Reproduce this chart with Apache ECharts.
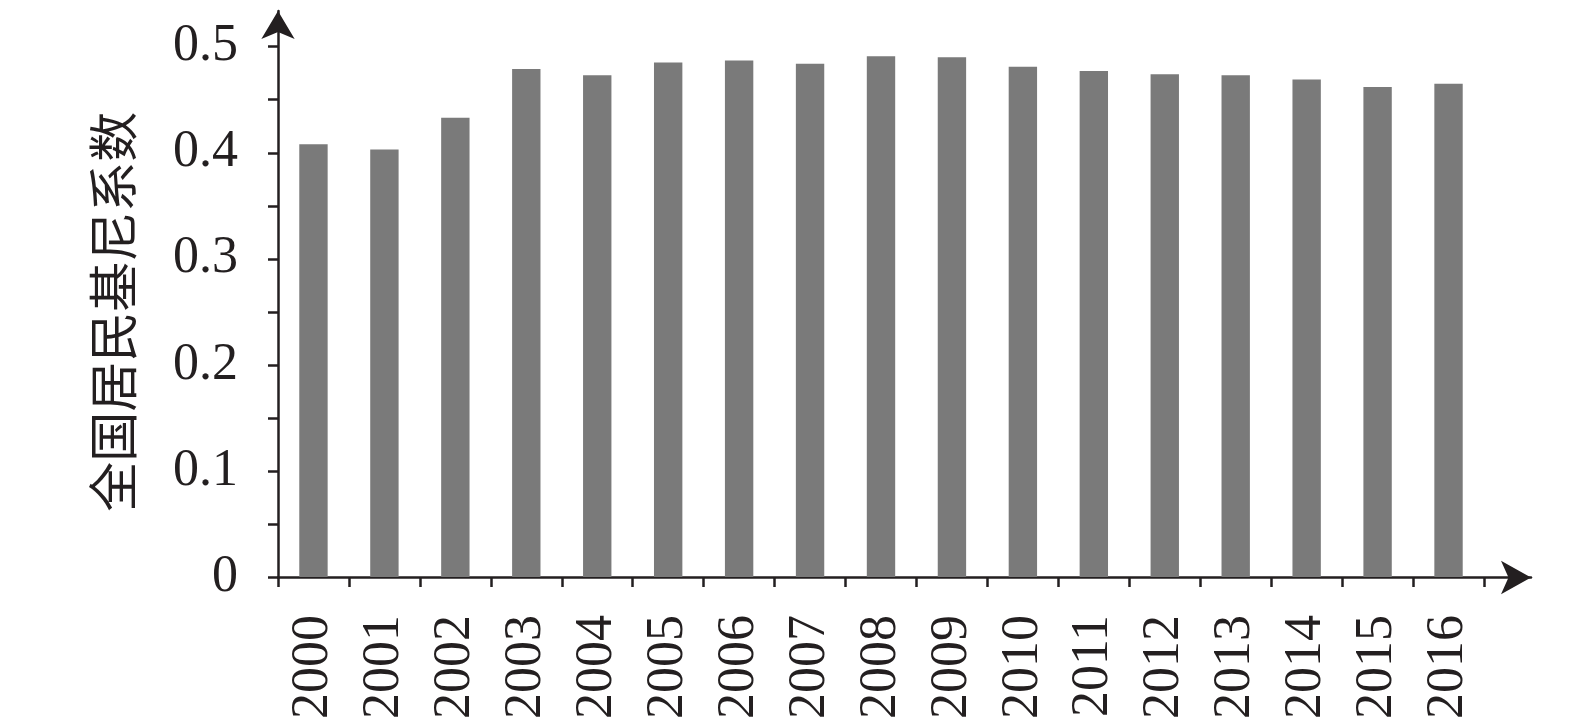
<!DOCTYPE html>
<html>
<head>
<meta charset="utf-8">
<script src="https://cdn.jsdelivr.net/npm/echarts@6/dist/echarts.min.js"></script>
<style>
html,body{margin:0;padding:0;background:#fff;}
#chart{width:1575px;height:722px;}
</style>
</head>
<body>
<div id="chart"></div>
<script>
const years = ['2000','2001','2002','2003','2004','2005','2006','2007','2008','2009','2010','2011','2012','2013','2014','2015','2016'];
const gini = [0.408,0.403,0.433,0.479,0.473,0.485,0.487,0.484,0.491,0.490,0.481,0.477,0.474,0.473,0.469,0.462,0.465];
const yAxisName = '全国居民基尼系数';

const ink = '#231f20';
const chart = echarts.init(document.getElementById('chart'));
chart.setOption({
  animation: false,
  backgroundColor: '#ffffff',
  grid: [
    {left: 278, right: 91, top: 46.7, bottom: 144.5},
    {left: 278, right: 44, top: 11, bottom: 144.5}
  ],
  xAxis: [
    {
      type: 'category', gridIndex: 0, data: years,
      axisLine: {show: false},
      axisTick: {show: true, length: 10, lineStyle: {color: ink, width: 2.5}},
      axisLabel: {rotate: 90, margin: 38, color: ink, fontFamily: 'Liberation Serif', fontSize: 52}
    },
    {
      type: 'value', gridIndex: 1, min: 0, max: 1,
      axisLine: {show: true, symbol: ['none','arrow'], symbolSize: [25, 30], lineStyle: {color: ink, width: 2.5}},
      axisTick: {show: false}, axisLabel: {show: false}, splitLine: {show: false}
    }
  ],
  yAxis: [
    {
      type: 'value', gridIndex: 0, min: 0, max: 0.5, interval: 0.05,
      name: yAxisName, nameLocation: 'middle', nameRotate: 90, nameGap: 140,
      nameTextStyle: {color: ink, fontFamily: 'Noto Sans CJK SC', fontSize: 50},
      axisLine: {show: false},
      axisTick: {show: true, length: 10, lineStyle: {color: ink, width: 2.5}},
      splitLine: {show: false},
      axisLabel: {
        margin: 40, color: ink, fontFamily: 'Liberation Serif', fontSize: 52,
        formatter: function (v) {
          const k = Math.round(v * 100);
          if (k % 10 !== 0) return '';
          return k === 0 ? '0' : (k / 100).toFixed(1);
        }
      }
    },
    {
      type: 'value', gridIndex: 1, min: 0, max: 1,
      axisLine: {show: true, symbol: ['none','arrow'], symbolSize: [25, 28], lineStyle: {color: ink, width: 2.5}},
      axisTick: {show: false}, axisLabel: {show: false}, splitLine: {show: false}
    }
  ],
  series: [
    {
      type: 'bar', xAxisIndex: 0, yAxisIndex: 0, data: gini,
      barWidth: '40%',
      itemStyle: {color: '#7a7a7a'}
    }
  ]
});
</script>
</body>
</html>
